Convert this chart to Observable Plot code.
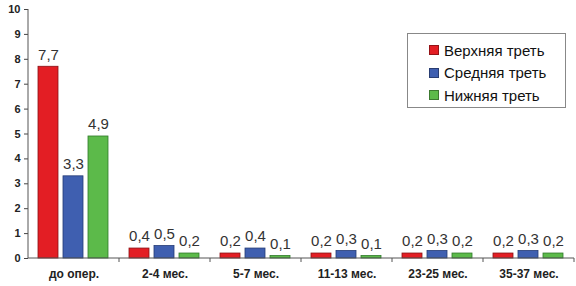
<!DOCTYPE html>
<html><head><meta charset="utf-8">
<script src="https://cdn.jsdelivr.net/npm/d3@7"></script>
<script src="https://cdn.jsdelivr.net/npm/@observablehq/plot@0.6"></script>
<style>
body{margin:0;background:#fff;font-family:"Liberation Sans",Arial,sans-serif;}
#wrap{position:relative;width:576px;height:286px;}
#legend{position:absolute;left:407px;top:33px;width:159px;height:75px;border:1px solid #888;background:#fff;box-sizing:border-box;padding-top:5px;}
.item{display:flex;align-items:center;height:22.5px;padding-left:21px;font-size:15px;color:#111;}
.sw{width:8px;height:8px;margin-right:5px;border:1px solid rgba(0,0,0,0.35);}
</style></head>
<body><div id="wrap"><div id="legend"></div></div>
<script>
const groups = ["до опер.", "2-4 мес.", "5-7 мес.", "11-13 мес.", "23-25 мес.", "35-37 мес."];
const seriesNames = ["Верхняя треть", "Средняя треть", "Нижняя треть"];
const upper = [7.7, 0.4, 0.2, 0.2, 0.2, 0.2];
const middle = [3.3, 0.5, 0.4, 0.3, 0.3, 0.3];
const lower = [4.9, 0.2, 0.1, 0.1, 0.2, 0.2];
const yTicks = [0,1,2,3,4,5,6,7,8,9,10];
const colors = ["#e31e24", "#3f5fb0", "#5cba4a"];
const strokes = ["#8a1014", "#233a75", "#2f7a28"];

const data = [];
[upper, middle, lower].forEach((arr, si) => arr.forEach((v, gi) => data.push({group: groups[gi], series: seriesNames[si], value: v})));
const fmt = v => String(v).replace(".", ",");

const chart = Plot.plot({
  width: 576, height: 286,
  marginLeft: 26, marginRight: 1, marginTop: 9, marginBottom: 28,
  style: {fontFamily: '"Liberation Sans", Arial, sans-serif', background: "#fff"},
  fx: {domain: groups, padding: 0, label: null},
  x: {domain: seriesNames, paddingInner: 0.19, paddingOuter: 0.35, axis: null},
  y: {domain: [0, 10], ticks: yTicks, label: null},
  color: {domain: seriesNames, range: colors},
  marks: [
    Plot.barY(data, {fx: "group", x: "series", y: "value", fill: "series", stroke: d => strokes[seriesNames.indexOf(d.series)], strokeWidth: 0.8}),
    Plot.text(data, {fx: "group", x: "series", y: "value", text: d => fmt(d.value), dy: -12, fontSize: 15, fill: "#333"}),
    Plot.axisY({ticks: yTicks, tickSize: 4, tickPadding: 4, fontSize: 11, fontWeight: "bold", stroke: "#444", fill: "#222"}),
    Plot.axisFx({anchor: "bottom", tickSize: 0, tickPadding: 11, fontSize: 12, fontWeight: "bold", fill: "#222", label: null})
  ]
});
document.getElementById("wrap").prepend(chart);

// y axis line and x baseline with group-boundary ticks, using the library's scales
const fxS = chart.scale("fx"), yS = chart.scale("y");
const svg = d3.select(chart);
const y0 = yS.apply(0), y10 = yS.apply(10);
const x0 = fxS.apply(groups[0]);
const step = fxS.step;
svg.append("line").attr("x1", x0).attr("x2", x0).attr("y1", y10).attr("y2", y0).attr("stroke", "#555");
svg.append("line").attr("x1", x0).attr("x2", x0 + step * groups.length).attr("y1", y0).attr("y2", y0).attr("stroke", "#555");
groups.forEach((g, i) => {
  const xb = fxS.apply(g) + step;
  svg.append("line").attr("x1", xb).attr("x2", xb).attr("y1", y0).attr("y2", y0 + 4).attr("stroke", "#555");
});

const lg = document.getElementById("legend");
seriesNames.forEach((s, i) => {
  const d = document.createElement("div"); d.className = "item";
  d.innerHTML = `<span class="sw" style="background:${colors[i]}"></span>${s}`;
  lg.appendChild(d);
});
</script></body></html>
